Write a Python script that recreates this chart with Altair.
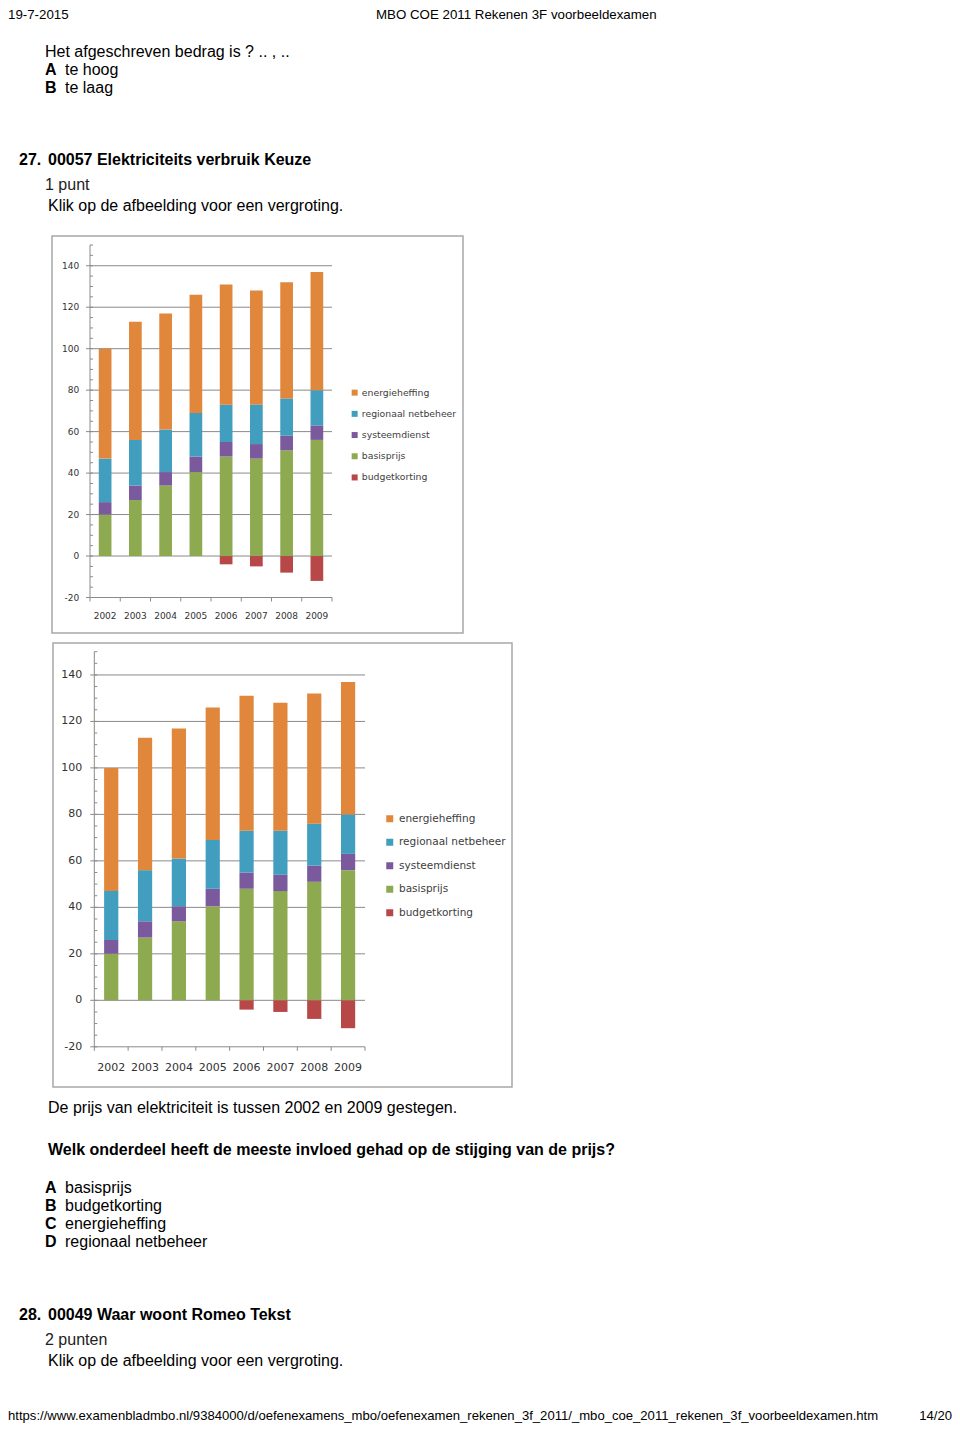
import altair as alt
import pandas as pd

# ---------------- data ----------------
jaren = ["2002", "2003", "2004", "2005", "2006", "2007", "2008", "2009"]
basisprijs = [20, 27, 34, 40.5, 48, 47, 51, 56]
systeemdienst = [6, 7, 6.5, 7.5, 7, 7, 7, 7]
regionaal_netbeheer = [21, 22, 20.5, 21, 18, 19, 18, 17]
energieheffing = [53, 57, 56, 57, 58, 55, 56, 57]
budgetkorting = [0, 0, 0, 0, -4, -5, -8, -12]

onderdelen = ["energieheffing", "regionaal netbeheer", "systeemdienst", "basisprijs", "budgetkorting"]
kleuren = ["#E0873C", "#419EBF", "#7A5A9C", "#8DAA50", "#B84748"]
stapel_volgorde = {"basisprijs": 0, "systeemdienst": 1, "regionaal netbeheer": 2,
                   "energieheffing": 3, "budgetkorting": 4}

y_labels = [-20, 0, 20, 40, 60, 80, 100, 120, 140]
grid_waarden = [0, 20, 40, 60, 80, 100, 120, 140]
minor_waarden = list(range(-20, 151, 5))

reeksen = {
    "basisprijs": basisprijs,
    "systeemdienst": systeemdienst,
    "regionaal netbeheer": regionaal_netbeheer,
    "energieheffing": energieheffing,
    "budgetkorting": budgetkorting,
}
rows = []
for naam, vals in reeksen.items():
    for j, v in zip(jaren, vals):
        if v != 0:
            rows.append({"jaar": j, "onderdeel": naam, "waarde": v, "volgorde": stapel_volgorde[naam]})
df = pd.DataFrame(rows)
df_jaren = pd.DataFrame({"jaar": jaren})
df_ylab = pd.DataFrame({"v": y_labels, "lab": [str(v) for v in y_labels]})
df_grid = pd.DataFrame({"v": grid_waarden})
df_minor = pd.DataFrame({"v": minor_waarden})
one = pd.DataFrame({"a": [0]})

PAD_IN = 0.58
PAD_OUT = PAD_IN / 2
GRID = "#8a8a8a"


def bar_chart(x0, x1, ybot, ytop, lab_size, lab_dx, xlab_y, leg_x, leg_y, leg_font, sym, row_pad, lab_off):
    xs = alt.Scale(domain=jaren, range=[x0, x1], paddingInner=PAD_IN, paddingOuter=PAD_OUT)
    xs_ticks = alt.Scale(domain=jaren, range=[x0, x1], paddingInner=0, paddingOuter=0)
    ys = alt.Scale(domain=[-20, 150], range=[ybot, ytop], nice=False, zero=False)
    X = lambda **kw: alt.X("jaar:N", scale=xs, axis=None, sort=jaren, **kw)

    grid = alt.Chart(df_grid).mark_rule(color=GRID, strokeWidth=1).encode(
        y=alt.Y("v:Q", scale=ys, axis=None), x=alt.value(x0 - 4), x2=alt.value(x1))
    minor = alt.Chart(df_minor).mark_rule(color=GRID, strokeWidth=1).encode(
        y=alt.Y("v:Q", scale=ys, axis=None), x=alt.value(x0), x2=alt.value(x0 + 3))
    yline = alt.Chart(one).mark_rule(color=GRID, strokeWidth=1).encode(
        y=alt.YDatum(150, type="quantitative", scale=ys, axis=None), y2=alt.Y2Datum(-20), x=alt.value(x0))
    xline = alt.Chart(one).mark_rule(color=GRID, strokeWidth=1).encode(
        y=alt.YDatum(-20, type="quantitative", scale=ys, axis=None), x=alt.value(x0 - 4), x2=alt.value(x1))
    xticks = alt.Chart(df_jaren).mark_rule(color=GRID, strokeWidth=1).encode(
        x=alt.X("jaar:N", scale=xs_ticks, axis=None, sort=jaren, bandPosition=0),
        y=alt.YDatum(-20, type="quantitative", scale=ys, axis=None),
        y2=alt.value(ybot + 4))
    xtick_end = alt.Chart(one).mark_rule(color=GRID, strokeWidth=1).encode(
        x=alt.value(x1), y=alt.YDatum(-20, type="quantitative", scale=ys, axis=None), y2=alt.value(ybot + 4))
    bars = alt.Chart(df).mark_bar().encode(
        x=X(),
        y=alt.Y("waarde:Q", scale=ys, axis=None, stack="zero"),
        color=alt.Color("onderdeel:N",
                        scale=alt.Scale(domain=onderdelen, range=kleuren),
                        legend=alt.Legend(orient="none", legendX=leg_x, legendY=leg_y, title=None,
                                          symbolType="square", symbolSize=sym, symbolStrokeWidth=0,
                                          labelFont="DejaVu Sans", labelFontSize=leg_font,
                                          labelColor="#404040", rowPadding=row_pad,
                                          labelOffset=lab_off, padding=0)),
        order=alt.Order("volgorde:Q"),
    )
    ylab = alt.Chart(df_ylab).mark_text(align="right", baseline="middle", font="DejaVu Sans",
                                        fontSize=lab_size, color="#333333").encode(
        y=alt.Y("v:Q", scale=ys, axis=None), x=alt.value(x0 - lab_dx), text="lab:N")
    xlab = alt.Chart(df_jaren).mark_text(align="center", baseline="middle", font="DejaVu Sans",
                                         fontSize=lab_size, color="#333333").encode(
        x=X(), y=alt.value(xlab_y), text="jaar:N")
    main = alt.layer(grid, minor, yline, xline, bars, ylab, xlab)
    ticks = alt.layer(xticks, xtick_end)
    return alt.layer(main, ticks).resolve_scale(x="independent")


def box(x0, y0, x1, y1):
    return alt.Chart(one).mark_rect(fill="white", stroke="#a8a8a8", strokeWidth=1.5).encode(
        x=alt.value(x0), x2=alt.value(x1), y=alt.value(y0), y2=alt.value(y1))


def txt(s, x, y, size=16, bold=False, align="left", baseline="middle", color="#000000"):
    return alt.Chart(pd.DataFrame({"t": [s]})).mark_text(
        align=align, baseline=baseline, font="Liberation Sans", fontSize=size,
        fontWeight="bold" if bold else "normal", color=color).encode(
        x=alt.value(x), y=alt.value(y), text="t:N")


teksten = [
    txt("19-7-2015", 0, 0, size=13.3, baseline="top"),
    txt("MBO COE 2011 Rekenen 3F voorbeeldexamen", 368, 0, size=13.3, baseline="top"),
    txt("Het afgeschreven bedrag is ? .. , ..", 37, 44),
    txt("A", 37, 62, bold=True), txt("te hoog", 57, 62),
    txt("B", 37, 80, bold=True), txt("te laag", 57, 80),
    txt("27.", 11, 152, bold=True), txt("00057 Elektriciteits verbruik Keuze", 40, 152, bold=True),
    txt("1 punt", 37, 177, color="#222222"),
    txt("Klik op de afbeelding voor een vergroting.", 40, 198),
    txt("De prijs van elektriciteit is tussen 2002 en 2009 gestegen.", 40, 1100),
    txt("Welk onderdeel heeft de meeste invloed gehad op de stijging van de prijs?", 40, 1142, bold=True),
    txt("A", 37, 1180, bold=True), txt("basisprijs", 57, 1180),
    txt("B", 37, 1198, bold=True), txt("budgetkorting", 57, 1198),
    txt("C", 37, 1216, bold=True), txt("energieheffing", 57, 1216),
    txt("D", 37, 1234, bold=True), txt("regionaal netbeheer", 57, 1234),
    txt("28.", 11, 1307, bold=True), txt("00049 Waar woont Romeo Tekst", 40, 1307, bold=True),
    txt("2 punten", 37, 1332, color="#222222"),
    txt("Klik op de afbeelding voor een vergroting.", 40, 1353),
    txt("https://www.examenbladmbo.nl/9384000/d/oefenexamens_mbo/oefenexamen_rekenen_3f_2011/_mbo_coe_2011_rekenen_3f_voorbeeldexamen.htm",
        0, 1412, size=13.1, baseline="alphabetic"),
    txt("14/20", 944, 1412, size=13.1, align="right", baseline="alphabetic"),
]

chart1 = bar_chart(82, 324, 589.5, 237.0, 9, 10.7, 607.5, 342, 380, 9.3, 36, 11.2, 2.5)
chart2 = bar_chart(86.3, 357, 1038.8, 643.7, 11, 12, 1059.5, 376.5, 805.5, 10.5, 49, 12.5, 4)

chart = alt.layer(
    box(44, 228, 455, 625),
    box(45, 635, 504, 1079),
    *teksten,
    chart1,
    chart2,
).resolve_scale(x="independent", y="independent", color="independent").resolve_legend(
    color="independent"
).properties(
    width=944, height=1417, padding=0, autosize=alt.AutoSizeParams(type="none")
).configure_view(stroke=None)

chart.save("out.html", embed_options={"renderer": "svg", "actions": False})
